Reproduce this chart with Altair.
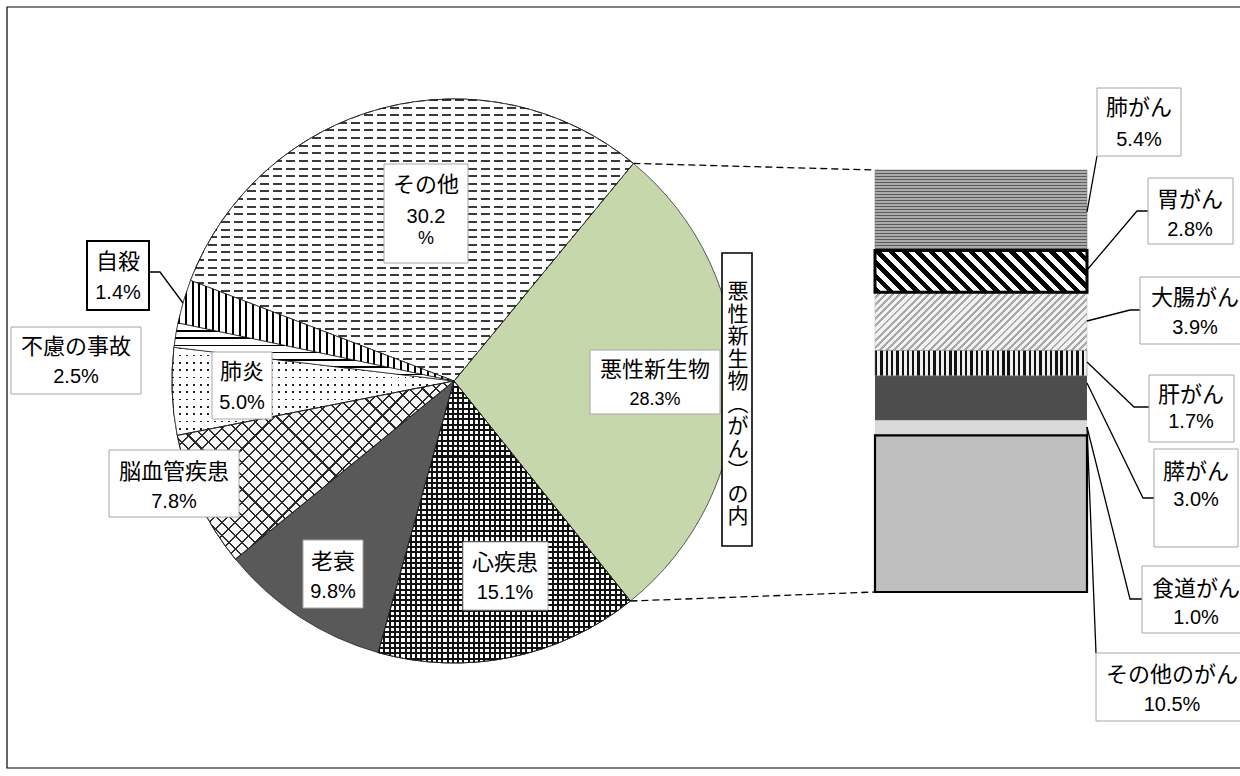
import math
import altair as alt
import pandas as pd

# ---------------- data ----------------
pie_causes = ["悪性新生物", "心疾患", "老衰", "脳血管疾患", "肺炎", "自殺", "不慮の事故", "その他"]
pie_values = [28.3, 15.1, 9.8, 7.8, 5.0, 1.4, 2.5, 30.2]
cancer_types = ["肺がん", "胃がん", "大腸がん", "肝がん", "膵がん", "食道がん", "その他のがん"]
cancer_values = [5.4, 2.8, 3.9, 1.7, 3.0, 1.0, 10.5]
breakdown_title = "悪性新生物（がん）の内"

# ---------------- layout / style ----------------
W, H = 1240, 776
CX, CY, R = 454, 381, 282
START_DEG = 39.5
BAR_X0, BAR_X1 = 875, 1087
BAR_TOP, BAR_BOTTOM = 170, 592
GRAY_BORDER = "#a6a6a6"
CJK_FONT = "Noto Sans CJK JP"
NUM_FONT = "Liberation Sans"
CLEAR = "rgba(0,0,0,0)"

pie_flat = {"悪性新生物": "#c6d8ab", "心疾患": "#ffffff", "老衰": "#595959", "脳血管疾患": "#ffffff",
            "肺炎": "#ffffff", "自殺": "#ffffff", "不慮の事故": "#ffffff", "その他": "#ffffff"}
bar_flat = {"肺がん": "#8c8c8c", "胃がん": "#808080", "大腸がん": "#d6d6d6", "肝がん": "#8a8a8a",
            "膵がん": "#4d4d4d", "食道がん": "#dadada", "その他のがん": "#bfbfbf"}

# label boxes: box=(x1,y1,x2,y2), cx, name y, value y
pie_label_layout = {
    "悪性新生物": dict(box=(590, 350, 720, 414), cx=655, ny=370, vy=400, fs=18),
    "心疾患": dict(box=(463, 542, 548, 610), cx=505, ny=563, vy=593),
    "老衰": dict(box=(303, 540, 363, 608), cx=333, ny=562, vy=592),
    "脳血管疾患": dict(box=(109, 450, 239, 517), cx=174, ny=472, vy=502),
    "肺炎": dict(box=(212, 352, 272, 419), cx=242, ny=372, vy=403),
    "不慮の事故": dict(box=(11, 327, 141, 394), cx=76, ny=347, vy=377),
    "自殺": dict(box=(87, 241, 149, 310), cx=118, ny=262, vy=293, stroke="black", sw=2),
    "その他": dict(box=(384, 164, 468, 263), cx=426, ny=185, vy=217, wrap=239),
}
bar_label_layout = {
    "肺がん": dict(box=(1097, 88, 1181, 156), cx=1139, ny=108, vy=140),
    "胃がん": dict(box=(1148, 178, 1233, 244), cx=1190, ny=200, vy=230),
    "大腸がん": dict(box=(1140, 277, 1262, 344), cx=1195, ny=298, vy=328),
    "肝がん": dict(box=(1149, 375, 1234, 442), cx=1191, ny=395, vy=422),
    "膵がん": dict(box=(1154, 449, 1238, 547), cx=1196, ny=472, vy=500),
    "食道がん": dict(box=(1142, 566, 1262, 633), cx=1196, ny=589, vy=618),
    "その他のがん": dict(box=(1096, 653, 1262, 721), cx=1172, ny=675, vy=705),
}
leaders = {
    "自殺": [(149, 272), (160, 272), (183, 303)],
    "肺がん": [(1097, 156), (1087, 212)],
    "胃がん": [(1148, 211), (1137, 211), (1087, 270)],
    "大腸がん": [(1140, 310), (1130, 310), (1087, 321)],
    "肝がん": [(1149, 407), (1134, 407), (1087, 362)],
    "膵がん": [(1154, 498), (1143, 498), (1087, 383)],
    "食道がん": [(1142, 599), (1130, 599), (1087, 427)],
    "その他のがん": [(1096, 653), (1087, 427)],
}
VBOX = (722, 253, 752, 546)
VTEXT_X, VTEXT_TOP, VTEXT_STEP = 738, 281, 22.5

# ---------------- helpers ----------------
def stops(n, on, off, frac):
    out = []
    for i in range(n):
        a, b, c = i / n, (i + frac) / n, (i + 1) / n
        out += [alt.GradientStop(offset=round(a, 5), color=on),
                alt.GradientStop(offset=round(b, 5), color=on),
                alt.GradientStop(offset=round(b, 5), color=off),
                alt.GradientStop(offset=round(c, 5), color=off)]
    return out


def grad(n, on, off, frac, x1, y1, x2, y2):
    return alt.LinearGradient(gradient="linear", stops=stops(max(n, 1), on, off, frac),
                              x1=x1, y1=y1, x2=x2, y2=y2)


def hlines(size, period, on, off, frac):
    return grad(round(size / period), on, off, frac, 0, 0, 0, 1)


def vlines(size, period, on, off, frac):
    return grad(round(size / period), on, off, frac, 0, 0, 1, 0)


def dlines(w, h, ux, uy, period, on, off, frac):
    """stripes whose lines run along (ux, uy) in screen space, on a w x h bounding box"""
    vb = (uy / h, -ux / w)
    corners = [(0, 0), (1, 0), (0, 1), (1, 1)]
    s = [c[0] * vb[0] + c[1] * vb[1] for c in corners]
    i0, i1 = s.index(min(s)), s.index(max(s))
    lam = (s[i1] - s[i0]) / (vb[0] ** 2 + vb[1] ** 2)
    p1 = corners[i0]
    p2 = (p1[0] + lam * vb[0], p1[1] + lam * vb[1])
    un = math.hypot(ux, uy)
    extent = abs(uy) / un * w + abs(ux) / un * h
    return grad(round(extent / period), on, off, frac, p1[0], p1[1], p2[0], p2[1])


pie_total = sum(pie_values)
bar_total = sum(cancer_values)

# slice angles (for pattern sizing and connectors)
angles = {}
cum = 0.0
for c, v in zip(pie_causes, pie_values):
    a0 = START_DEG + cum / pie_total * 360
    cum += v
    angles[c] = (a0, START_DEG + cum / pie_total * 360)


def pt(a):
    r = math.radians(a)
    return CX + R * math.sin(r), CY - R * math.cos(r)


def arc_bbox(a0, a1):
    pts = [(CX, CY), pt(a0), pt(a1)]
    for k in range(-4, 12):
        if a0 < k * 90 < a1:
            pts.append(pt(k * 90))
    xs = [p[0] for p in pts]
    ys = [p[1] for p in pts]
    return max(xs) - min(xs), max(ys) - min(ys)


# ---------------- tables ----------------
pie_df = pd.DataFrame({"cause": pie_causes, "value": pie_values, "order": list(range(len(pie_causes)))})
bar_df = pd.DataFrame({"type": cancer_types, "value": cancer_values, "order": list(range(len(cancer_types)))})

theta_scale = alt.Scale(domain=[0, pie_total],
                        range=[math.radians(START_DEG), math.radians(START_DEG) + 2 * math.pi])
bar_y_scale = alt.Scale(domain=[0, bar_total], range=[BAR_TOP, BAR_BOTTOM], nice=False, zero=False)
XS = alt.Scale(domain=[0, W], range=[0, W], nice=False, zero=False)
YS = alt.Scale(domain=[0, H], range=[0, H], nice=False, zero=False)


def pie_chart(only=None):
    ch = alt.Chart(pie_df).transform_stack(stack="value", as_=["t0", "t1"], groupby=[],
                                           sort=[alt.SortField("order", order="ascending")])
    if only is not None:
        ch = ch.transform_filter(alt.FieldEqualPredicate(field="cause", equal=only))
    return ch


def pie_enc(ch):
    return ch.encode(theta=alt.Theta("t0:Q", scale=theta_scale), theta2="t1:Q",
                     x=alt.value(CX), y=alt.value(CY))


pie_base = pie_enc(pie_chart().mark_arc(outerRadius=R, stroke="#1a1a1a", strokeWidth=0.7)).encode(
    fill=alt.Fill("cause:N", scale=alt.Scale(domain=pie_causes, range=[pie_flat[c] for c in pie_causes]),
                  legend=None))


def pie_overlay(name, fill):
    return pie_enc(pie_chart(name).mark_arc(outerRadius=R, fill=fill, stroke="#1a1a1a", strokeWidth=0.7))


pw = {c: arc_bbox(*angles[c]) for c in pie_causes}
bw_, bh_ = pw["脳血管疾患"]
pie_overlays = [
    pie_overlay("心疾患", hlines(pw["心疾患"][1], 5.3, "#111111", "#ffffff", 0.38)),
    pie_overlay("心疾患", vlines(pw["心疾患"][0], 5.3, "#111111", CLEAR, 0.38)),
    pie_overlay("その他", hlines(pw["その他"][1], 7.7, "#3a3a3a", "#ffffff", 0.26)),
    pie_overlay("その他", vlines(pw["その他"][0], 13, "#ffffff", CLEAR, 0.32)),
    pie_overlay("肺炎", hlines(pw["肺炎"][1], 7.6, "#222222", "#ffffff", 0.24)),
    pie_overlay("肺炎", vlines(pw["肺炎"][0], 7.0, CLEAR, "#ffffff", 0.26)),
    pie_overlay("自殺", hlines(pw["自殺"][1], 7.0, "#000000", "#ffffff", 0.2)),
    pie_overlay("不慮の事故", vlines(pw["不慮の事故"][0], 6.7, "#000000", "#ffffff", 0.3)),
    pie_overlay("脳血管疾患", dlines(bw_, bh_, 1, 1, 9.5, "#2a2a2a", "#f6f6f6", 0.16)),
    pie_overlay("脳血管疾患", dlines(bw_, bh_, 1, -1, 9.5, "#2a2a2a", CLEAR, 0.16)),
]


def bar_chart(only=None):
    ch = alt.Chart(bar_df).transform_stack(stack="value", as_=["s0", "s1"], groupby=[],
                                           sort=[alt.SortField("order", order="ascending")])
    if only is not None:
        ch = ch.transform_filter(alt.FieldEqualPredicate(field="type", equal=only))
    return ch


def bar_enc(ch):
    return ch.encode(x=alt.value(BAR_X0), x2=alt.value(BAR_X1),
                     y=alt.Y("s0:Q", scale=bar_y_scale, axis=None), y2="s1:Q")


bar_base = bar_enc(bar_chart().mark_rect()).encode(
    fill=alt.Fill("type:N", scale=alt.Scale(domain=cancer_types, range=[bar_flat[c] for c in cancer_types]),
                  legend=None))

seg_h = {t: v / bar_total * (BAR_BOTTOM - BAR_TOP) for t, v in zip(cancer_types, cancer_values)}
bw = BAR_X1 - BAR_X0

bar_overlays = [
    bar_enc(bar_chart("肺がん").mark_rect(fill=hlines(seg_h["肺がん"], 3, "#5c5c5c", "#ababab", 0.5),
                                        stroke="#7f7f7f", strokeWidth=0.6)),
    bar_enc(bar_chart("大腸がん").mark_rect(fill=dlines(bw, seg_h["大腸がん"], 1, -1, 5.0, "#a8a8a8", "#f2f2f2", 0.4),
                                         stroke="#bfbfbf", strokeWidth=0.6)),
    bar_enc(bar_chart("肝がん").mark_rect(fill=vlines(bw, 5.3, "#111111", "#f0f0f0", 0.45),
                                        stroke="#7f7f7f", strokeWidth=0.6)),
    bar_enc(bar_chart("胃がん").mark_rect(fill=dlines(bw, seg_h["胃がん"], 1, 1, 9.4, "#000000", "#ffffff", 0.5),
                                        stroke="#000000", strokeWidth=3)),
    bar_enc(bar_chart("その他のがん").mark_rect(fill=bar_flat["その他のがん"], stroke="#000000", strokeWidth=2.2)),
]

# connectors (dashed) from the malignant-neoplasm slice to the bar
p_top = pt(angles["悪性新生物"][0])
p_bot = pt(angles["悪性新生物"][1])
conn_df = pd.DataFrame({"x1": [p_top[0], p_bot[0]], "y1": [p_top[1], p_bot[1]],
                        "x2": [BAR_X0, BAR_X0], "y2": [BAR_TOP, BAR_BOTTOM]})
connectors = alt.Chart(conn_df).mark_rule(color="black", strokeWidth=1.3, strokeDash=[7, 4]).encode(
    x=alt.X("x1:Q", scale=XS, axis=None), x2="x2:Q",
    y=alt.Y("y1:Q", scale=YS, axis=None), y2="y2:Q")

# label tables
box_rows, name_rows, val_rows = [], [], []
for names, vals, layout in ((pie_causes, pie_values, pie_label_layout),
                            (cancer_types, cancer_values, bar_label_layout)):
    for n_, v in zip(names, vals):
        L = layout[n_]
        x1, y1, x2, y2 = L["box"]
        box_rows.append(dict(x1=x1, y1=y1, x2=x2, y2=y2, stroke=L.get("stroke", GRAY_BORDER), sw=L.get("sw", 1)))
        name_rows.append(dict(text=n_, x=L["cx"], y=L["ny"]))
        fs = L.get("fs", 20)
        if "wrap" in L:
            val_rows.append(dict(text=f"{v:.1f}", x=L["cx"], y=L["vy"], fs=fs))
            val_rows.append(dict(text="%", x=L["cx"], y=L["wrap"], fs=fs - 2))
        else:
            val_rows.append(dict(text=f"{v:.1f}%", x=L["cx"], y=L["vy"], fs=fs))
box_rows.append(dict(x1=VBOX[0], y1=VBOX[1], x2=VBOX[2], y2=VBOX[3], stroke="black", sw=1.6))

vert_map = {"（": "︵", "）": "︶"}
vtext = "\n".join(vert_map.get(ch, ch) for ch in breakdown_title)
vert_df = pd.DataFrame([dict(text=vtext, x=VTEXT_X, y=VTEXT_TOP)])

lead_rows = []
for n_, pts in leaders.items():
    for s, (x, y) in enumerate(pts):
        lead_rows.append(dict(id=n_, seq=s, x=x, y=y))

box_df = pd.DataFrame(box_rows)
name_df = pd.DataFrame(name_rows)
val_df = pd.DataFrame(val_rows)
lead_df = pd.DataFrame(lead_rows)

leader_layer = alt.Chart(lead_df).mark_line(color="black", strokeWidth=1.3).encode(
    x=alt.X("x:Q", scale=XS, axis=None), y=alt.Y("y:Q", scale=YS, axis=None),
    detail="id:N", order="seq:Q")

box_layer = alt.Chart(box_df).mark_rect(fill="white").encode(
    x=alt.X("x1:Q", scale=XS, axis=None), x2="x2:Q",
    y=alt.Y("y1:Q", scale=YS, axis=None), y2="y2:Q",
    stroke=alt.Stroke("stroke:N", scale=None), strokeWidth=alt.StrokeWidth("sw:Q", scale=None))

name_layer = alt.Chart(name_df).mark_text(font=CJK_FONT, fontSize=22, align="center", baseline="middle",
                                          color="#000000").encode(
    x=alt.X("x:Q", scale=XS, axis=None), y=alt.Y("y:Q", scale=YS, axis=None), text="text:N")

vert_layer = alt.Chart(vert_df).mark_text(font=CJK_FONT, fontSize=21, align="center", baseline="top",
                                          lineBreak="\n", lineHeight=VTEXT_STEP, color="#000000").encode(
    x=alt.X("x:Q", scale=XS, axis=None), y=alt.Y("y:Q", scale=YS, axis=None), text="text:N")

val_layer = alt.Chart(val_df).mark_text(font=NUM_FONT, align="center", baseline="middle",
                                        color="#000000").encode(
    x=alt.X("x:Q", scale=XS, axis=None), y=alt.Y("y:Q", scale=YS, axis=None), text="text:N",
    size=alt.Size("fs:Q", scale=None))

frame = alt.Chart(pd.DataFrame({"a": [0]})).mark_rect(fillOpacity=0, stroke="black", strokeWidth=1.2).encode(
    x=alt.value(7), x2=alt.value(1262), y=alt.value(7), y2=alt.value(768))

chart = alt.layer(
    frame, pie_base, *pie_overlays, connectors, bar_base, *bar_overlays,
    leader_layer, box_layer, name_layer, vert_layer, val_layer
).resolve_scale(
    x="independent", y="independent", fill="independent"
).properties(
    width=W, height=H, padding=0, background="white",
    autosize=alt.AutoSizeParams(type="none")
).configure_view(strokeWidth=0)

chart.save("out.html", embed_options={"renderer": "svg", "actions": False})
